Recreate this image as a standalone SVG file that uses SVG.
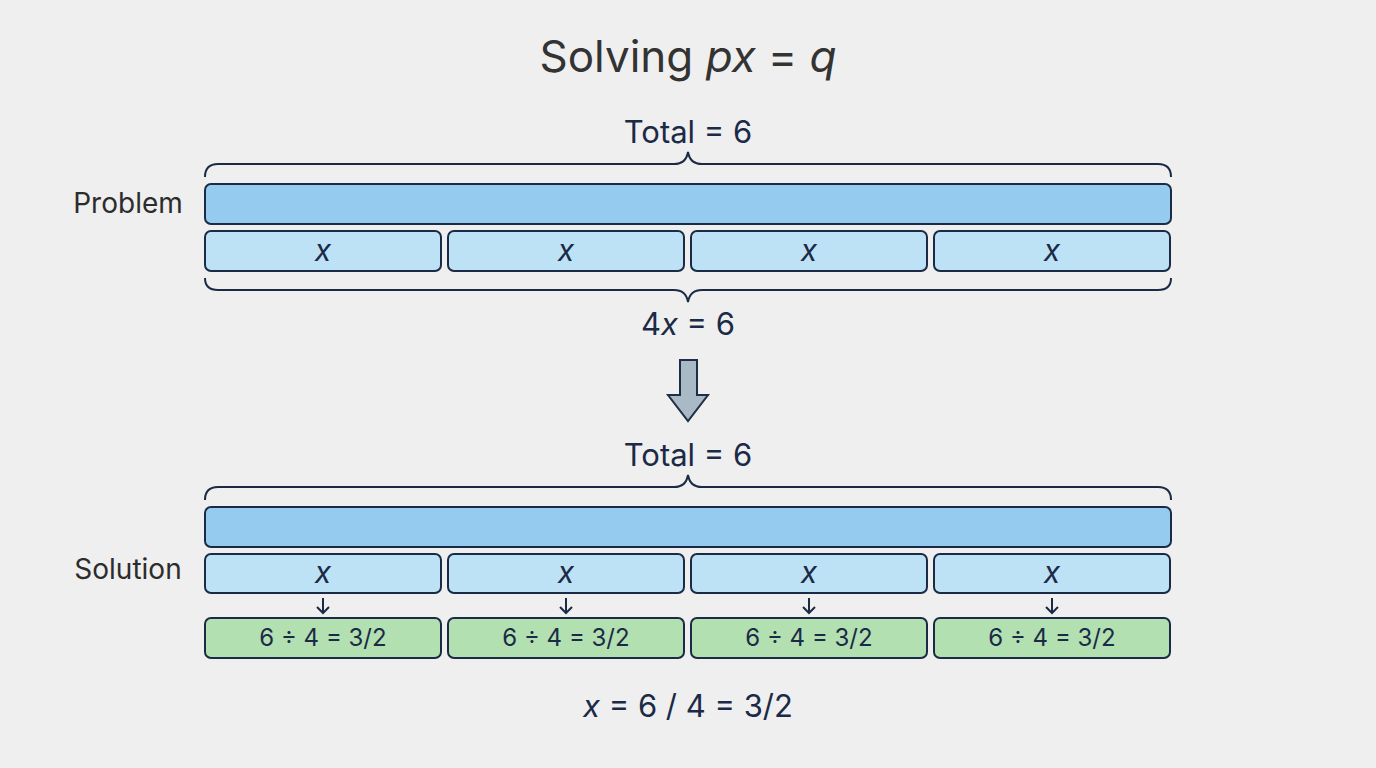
<svg xmlns="http://www.w3.org/2000/svg" width="1376" height="768" viewBox="0 0 1376 768">
<style>
text{font-family:"Inter","Open Sans","Liberation Sans",sans-serif;fill:#1b2a47;text-anchor:middle}
.title{font-size:44px;fill:#333}
.lbl{font-size:31px}
.side{font-size:28px;fill:#2c2c2c}
.bar{fill:#95cbee;stroke:#1b2a45;stroke-width:2}
.part{fill:#bde2f5;stroke:#1b2a45;stroke-width:2}
.res{fill:#b3e0b1;stroke:#1b2a45;stroke-width:2}
.brace{fill:none;stroke:#1b2a45;stroke-width:2}
.xt{font-size:30px;font-style:italic}
.rt{font-size:24px}
.sm{fill:none;stroke:#1b2a45;stroke-width:2}
</style>
<rect width="1376" height="768" fill="#efefef"/>
<g id="title"><text class="title" x="688" y="72">Solving <tspan font-style="italic">px</tspan> = <tspan font-style="italic">q</tspan></text></g>
<g id="problem">
<text class="side" x="128" y="213">Problem</text>
<text class="lbl" x="688" y="143">Total = 6</text>
<path class="brace" d="M205,177 Q205,164 218,164 L674,164 Q686,164 688,152 Q690,164 702,164 L1158,164 Q1171,164 1171,177"/>
<rect class="bar" x="205" y="184" width="966" height="40" rx="6"/>
<rect class="part" x="205" y="231" width="236" height="40" rx="6"/>
<rect class="part" x="448" y="231" width="236" height="40" rx="6"/>
<rect class="part" x="691" y="231" width="236" height="40" rx="6"/>
<rect class="part" x="934" y="231" width="236" height="40" rx="6"/>
<text class="xt" x="323" y="261">x</text>
<text class="xt" x="566" y="261">x</text>
<text class="xt" x="809" y="261">x</text>
<text class="xt" x="1052" y="261">x</text>
<path class="brace" d="M205,278 Q205,290 218,290 L674,290 Q686,290 688,302 Q690,290 702,290 L1158,290 Q1171,290 1171,278"/>
<text class="lbl" x="688" y="335">4<tspan font-style="italic">x</tspan> = 6</text>
</g>
<g id="connectors">
<path d="M680,360 L697,360 L697,395 L708,395 L688,421 L668,395 L680,395 Z" fill="#a9b9c6" stroke="#1e2f45" stroke-width="2" stroke-linejoin="miter"/>
<g class="sm">
<path d="M323,598 L323,613 M317,607 L323,613 L329,607"/>
<path d="M566,598 L566,613 M560,607 L566,613 L572,607"/>
<path d="M809,598 L809,613 M803,607 L809,613 L815,607"/>
<path d="M1052,598 L1052,613 M1046,607 L1052,613 L1058,607"/>
</g>
</g>
<g id="solution">
<text class="side" x="128" y="579">Solution</text>
<text class="lbl" x="688" y="466">Total = 6</text>
<path class="brace" d="M205,500 Q205,487 218,487 L674,487 Q686,487 688,475 Q690,487 702,487 L1158,487 Q1171,487 1171,500"/>
<rect class="bar" x="205" y="507" width="966" height="40" rx="6"/>
<rect class="part" x="205" y="554" width="236" height="39" rx="6"/>
<rect class="part" x="448" y="554" width="236" height="39" rx="6"/>
<rect class="part" x="691" y="554" width="236" height="39" rx="6"/>
<rect class="part" x="934" y="554" width="236" height="39" rx="6"/>
<text class="xt" x="323" y="583">x</text>
<text class="xt" x="566" y="583">x</text>
<text class="xt" x="809" y="583">x</text>
<text class="xt" x="1052" y="583">x</text>
<rect class="res" x="205" y="618" width="236" height="40" rx="6"/>
<rect class="res" x="448" y="618" width="236" height="40" rx="6"/>
<rect class="res" x="691" y="618" width="236" height="40" rx="6"/>
<rect class="res" x="934" y="618" width="236" height="40" rx="6"/>
<text class="rt" x="323" y="646">6 ÷ 4 = 3/2</text>
<text class="rt" x="566" y="646">6 ÷ 4 = 3/2</text>
<text class="rt" x="809" y="646">6 ÷ 4 = 3/2</text>
<text class="rt" x="1052" y="646">6 ÷ 4 = 3/2</text>
<text class="lbl" x="688" y="717"><tspan font-style="italic">x</tspan> = 6 / 4 = 3/2</text>
</g>
</svg>
